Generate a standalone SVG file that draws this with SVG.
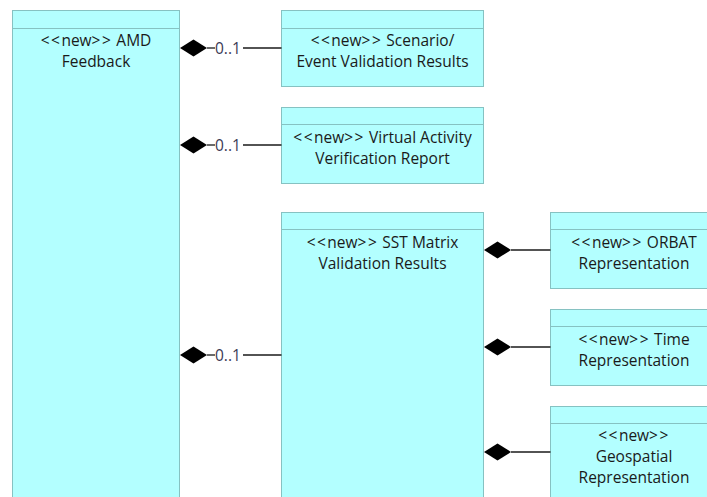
<svg xmlns="http://www.w3.org/2000/svg" width="707" height="497" viewBox="0 0 707 497">
<defs>
<style>
.box{fill:#b3ffff;stroke:#86c2c2;stroke-width:1}
.sep{stroke:#86c2c2;stroke-width:1;fill:none}
.t{font-family:"Open Sans","Noto Sans","DejaVu Sans",sans-serif;font-size:15.5px;fill:#1a1a1a;text-anchor:middle}
.m{font-family:"Open Sans","Noto Sans","DejaVu Sans",sans-serif;font-size:15.5px;fill:#3a3a55}
.c{letter-spacing:1.5px}
.ln{stroke:#1a1a1a;stroke-width:1.3;fill:none}
.dm{fill:#000}
</style>
</defs>
<rect width="707" height="497" fill="#fff"/>
<g id="amd-feedback">
<rect class="box" x="12.5" y="10.5" width="167" height="500"/>
<line class="sep" x1="12.5" y1="28.5" x2="179.5" y2="28.5"/>
<text class="t" x="96" y="46"><tspan class="c">&lt;&lt;</tspan>new<tspan class="c">&gt;&gt;</tspan> AMD</text>
<text class="t" x="96" y="67">Feedback</text>
</g>
<g id="scenario">
<rect class="box" x="281.5" y="10.5" width="202" height="76"/>
<line class="sep" x1="281.5" y1="28.5" x2="483.5" y2="28.5"/>
<text class="t" x="382.5" y="46"><tspan class="c">&lt;&lt;</tspan>new<tspan class="c">&gt;&gt;</tspan> Scenario/</text>
<text class="t" x="382.5" y="67">Event Validation Results</text>
</g>
<g id="virtual">
<rect class="box" x="281.5" y="107.5" width="202" height="76"/>
<line class="sep" x1="281.5" y1="124.5" x2="483.5" y2="124.5"/>
<text class="t" x="382.5" y="143"><tspan class="c">&lt;&lt;</tspan>new<tspan class="c">&gt;&gt;</tspan> Virtual Activity</text>
<text class="t" x="382.5" y="164">Verification Report</text>
</g>
<g id="sst">
<rect class="box" x="281.5" y="212.5" width="202" height="300"/>
<line class="sep" x1="281.5" y1="229.5" x2="483.5" y2="229.5"/>
<text class="t" x="382.5" y="248"><tspan class="c">&lt;&lt;</tspan>new<tspan class="c">&gt;&gt;</tspan> SST Matrix</text>
<text class="t" x="382.5" y="269">Validation Results</text>
</g>
<g id="orbat">
<rect class="box" x="550.5" y="212.5" width="167" height="76"/>
<line class="sep" x1="550.5" y1="229.5" x2="717.5" y2="229.5"/>
<text class="t" x="634" y="248"><tspan class="c">&lt;&lt;</tspan>new<tspan class="c">&gt;&gt;</tspan> ORBAT</text>
<text class="t" x="634" y="269">Representation</text>
</g>
<g id="time">
<rect class="box" x="550.5" y="309.5" width="167" height="76"/>
<line class="sep" x1="550.5" y1="326.5" x2="717.5" y2="326.5"/>
<text class="t" x="634" y="345"><tspan class="c">&lt;&lt;</tspan>new<tspan class="c">&gt;&gt;</tspan> Time</text>
<text class="t" x="634" y="366">Representation</text>
</g>
<g id="geospatial">
<rect class="box" x="550.5" y="406.5" width="167" height="100"/>
<line class="sep" x1="550.5" y1="423.5" x2="717.5" y2="423.5"/>
<text class="t" x="634" y="441"><tspan class="c">&lt;&lt;</tspan>new<tspan class="c">&gt;&gt;</tspan></text>
<text class="t" x="634" y="462">Geospatial</text>
<text class="t" x="634" y="483">Representation</text>
</g>
<g id="connectors">
<polygon class="dm" points="180,48 193.5,39.5 207,48 193.5,56.5"/>
<line class="ln" x1="207" y1="48" x2="215" y2="48"/>
<text class="m" x="215" y="54">0..1</text>
<line class="ln" x1="243" y1="48" x2="281.5" y2="48"/>
<polygon class="dm" points="180,145 193.5,136.5 207,145 193.5,153.5"/>
<line class="ln" x1="207" y1="145" x2="215" y2="145"/>
<text class="m" x="215" y="151">0..1</text>
<line class="ln" x1="243" y1="145" x2="281.5" y2="145"/>
<polygon class="dm" points="180,355 193.5,346.5 207,355 193.5,363.5"/>
<line class="ln" x1="207" y1="355" x2="215" y2="355"/>
<text class="m" x="215" y="361">0..1</text>
<line class="ln" x1="243" y1="355" x2="281.5" y2="355"/>
<polygon class="dm" points="484,250 497.5,241.5 511,250 497.5,258.5"/>
<line class="ln" x1="511" y1="250" x2="550.5" y2="250"/>
<polygon class="dm" points="484,347 497.5,338.5 511,347 497.5,355.5"/>
<line class="ln" x1="511" y1="347" x2="550.5" y2="347"/>
<polygon class="dm" points="484,452 497.5,443.5 511,452 497.5,460.5"/>
<line class="ln" x1="511" y1="452" x2="550.5" y2="452"/>
</g>
</svg>
